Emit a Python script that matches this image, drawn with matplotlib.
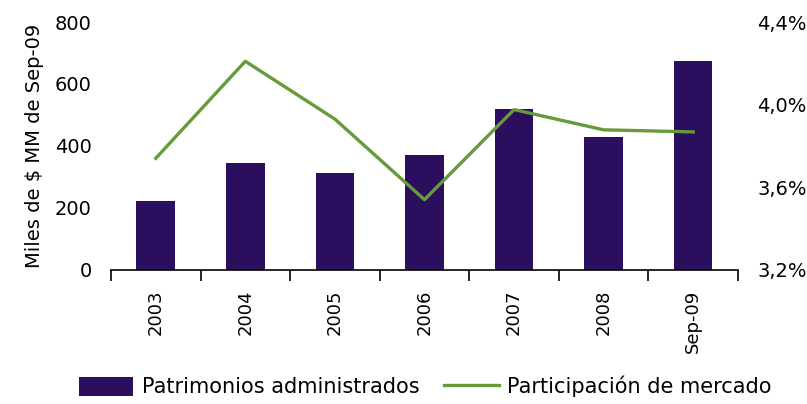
import matplotlib
matplotlib.use("Agg")
import matplotlib.pyplot as plt
import numpy as np
from matplotlib.ticker import FuncFormatter

# datos
categorias = ['2003', '2004', '2005', '2006', '2007', '2008', 'Sep-09']
patrimonios = [222, 345, 313, 371, 519, 429, 674]
participacion = [3.74, 4.21, 3.93, 3.54, 3.976, 3.878, 3.868]

color_barra = '#2c0e5e'
color_linea = '#669a3a'

fig = plt.figure(figsize=(8.07, 4.04), dpi=100)

ax = fig.add_axes([0.1375, 0.332, 0.777, 0.6135])
x = np.arange(len(categorias))
barras = ax.bar(x, patrimonios, width=0.43, color=color_barra, label='Patrimonios administrados', zorder=2)
ax.set_xlim(-0.5, len(categorias) - 0.5)
ax.set_ylim(0, 800)
ax.set_yticks([0, 200, 400, 600, 800])
ax.tick_params(axis='y', length=0, labelsize=14, pad=14)
ax.set_ylabel('Miles de $ MM de Sep-09', fontsize=14, labelpad=8)

ax.set_xticks(x)
ax.set_xticklabels(categorias, rotation=90, fontsize=13)
ax.set_xticks(np.arange(len(categorias) + 1) - 0.5, minor=True)
ax.tick_params(axis='x', which='major', length=0, pad=14)
ax.tick_params(axis='x', which='minor', length=8, width=1.2, direction='out')
for s in ['top', 'left', 'right']:
    ax.spines[s].set_visible(False)
ax.spines['bottom'].set_linewidth(1.2)

ax2 = ax.twinx()
linea, = ax2.plot(x, participacion, color=color_linea, linewidth=2.4, label='Participación de mercado', zorder=3)
ax2.set_ylim(3.2, 4.4)
ax2.set_yticks([3.2, 3.6, 4.0, 4.4])
ax2.yaxis.set_major_formatter(FuncFormatter(lambda v, p: ('%.1f%%' % v).replace('.', ',')))
ax2.tick_params(axis='y', length=0, labelsize=14, pad=14)
for s in ['top', 'left', 'right', 'bottom']:
    ax2.spines[s].set_visible(False)

fig.legend([barras, linea], ['Patrimonios administrados', 'Participación de mercado'],
           loc='lower center', bbox_to_anchor=(0.527, -0.03), ncol=2, frameon=False,
           fontsize=15, handlelength=2.6, handleheight=1.0, columnspacing=1.2, handletextpad=0.4)

fig.savefig('out.png', dpi=100)
